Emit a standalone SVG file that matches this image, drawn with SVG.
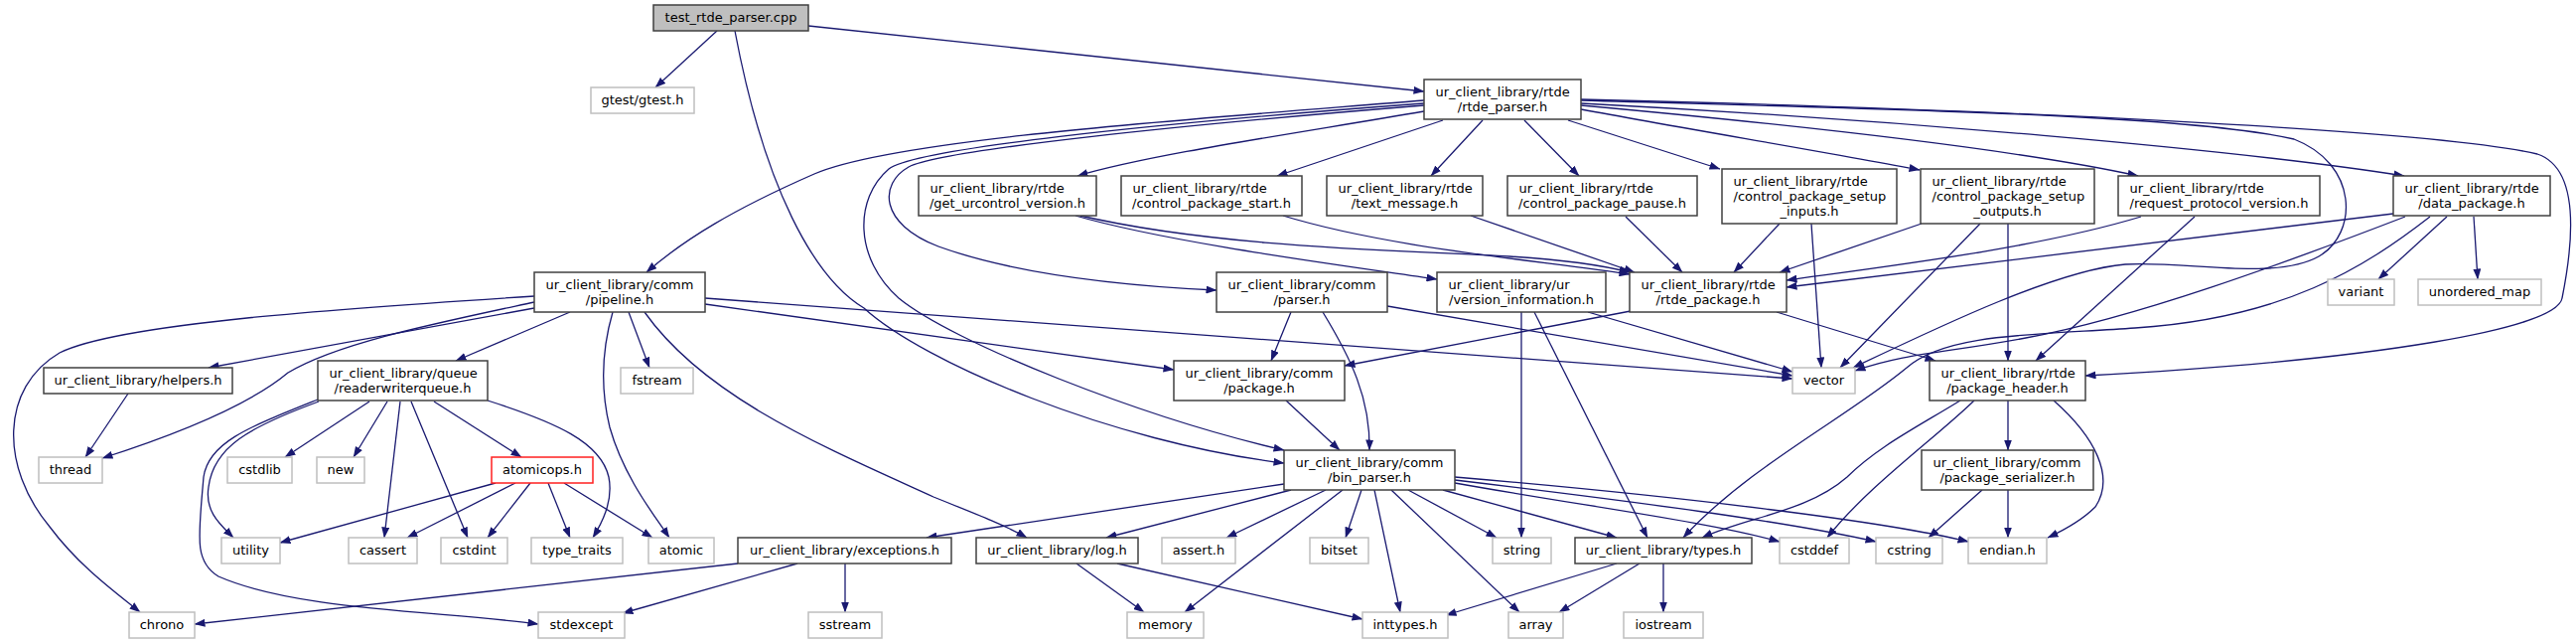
<svg xmlns="http://www.w3.org/2000/svg" width="2594" height="648" viewBox="0 0 2594 648">
<defs>
<marker id="ah" viewBox="0 0 11 8" refX="10.5" refY="4" markerWidth="11" markerHeight="8" markerUnits="userSpaceOnUse" orient="auto">
<path d="M0,0 L11,4 L0,8 z" fill="#191970"/>
</marker>
<style>
.e path{fill:none;stroke:#191970;stroke-width:1.3;marker-end:url(#ah)}
.n rect{fill:#ffffff;stroke:#404040;stroke-width:1.5}
.g rect{fill:#ffffff;stroke:#bfbfbf;stroke-width:1.5}
.r rect{fill:#ffffff;stroke:#ff2020;stroke-width:1.5}
.root rect{fill:#bfbfbf;stroke:#404040;stroke-width:1.5}
text{font-family:"DejaVu Sans","Liberation Sans",sans-serif;font-size:13px;fill:#000}
.c{text-anchor:middle}
</style>
</defs>
<rect width="2594" height="648" fill="#ffffff"/>
<g class="e" id="connectors">
<path d="M722,31 L660,88"/>
<path d="M814,26 L1434,92"/>
<path d="M740,31 C770,190 820,280 870,310 C930,365 1120,445 1293,466"/>
<path d="M1434,101 C1200,120 900,140 820,175 C740,210 690,240 651,274"/>
<path d="M1434,104 C1150,125 920,150 895,170 C860,200 860,260 905,300 C960,345 1150,420 1293,453"/>
<path d="M1434,106 C1200,125 950,150 915,168 C885,185 885,225 945,248 C1020,275 1120,287 1225,292"/>
<path d="M1434,112 C1300,135 1160,155 1085,177"/>
<path d="M1453,121 L1286,177"/>
<path d="M1493,121 L1441,177"/>
<path d="M1535,121 L1590,177"/>
<path d="M1579,121 L1732,170"/>
<path d="M1592,110 C1700,130 1850,155 1933,171"/>
<path d="M1592,106 C1800,125 2030,150 2153,177"/>
<path d="M1592,104 C1900,120 2250,150 2421,177"/>
<path d="M1592,101 C1900,110 2200,115 2310,140 C2375,165 2375,235 2335,258 C2290,283 2200,262 2140,266 C2070,272 1950,330 1866,370"/>
<path d="M1592,100 C2000,110 2450,130 2555,155 C2600,170 2590,250 2580,300 C2575,330 2400,362 2100,378"/>
<path d="M1083,217 C1180,245 1360,268 1447,281"/>
<path d="M1088,217 C1230,250 1420,252 1520,258 C1570,261 1610,266 1641,274"/>
<path d="M1292,217 C1400,250 1550,262 1641,276"/>
<path d="M1481,217 L1646,274"/>
<path d="M1637,218 L1694,274"/>
<path d="M1792,225 L1746,274"/>
<path d="M1824,225 L1834,370"/>
<path d="M1935,225 L1792,274"/>
<path d="M1994,225 L1853,370"/>
<path d="M2022,225 L2022,363"/>
<path d="M2156,218 C2050,250 1900,268 1799,282"/>
<path d="M2210,218 L2050,363"/>
<path d="M2410,215 L1799,289"/>
<path d="M2422,218 C2300,265 2150,320 2040,340 C1960,355 1920,355 1868,373"/>
<path d="M2447,218 C2380,270 2300,320 2150,330 C2050,337 1960,335 1920,370 C1860,420 1760,470 1695,541"/>
<path d="M2464,218 L2395,281"/>
<path d="M2491,218 L2495,281"/>
<path d="M538,298 C350,310 120,325 60,355 C0,390 0,470 50,530 C80,570 115,595 141,616"/>
<path d="M538,304 C440,325 340,345 290,375 C260,400 200,430 103,461"/>
<path d="M538,310 L210,370"/>
<path d="M574,314 L459,363"/>
<path d="M617,314 C608,345 603,385 614,430 C628,480 660,520 674,541"/>
<path d="M633,314 L654,370"/>
<path d="M649,314 C710,400 830,450 940,500 C990,520 1015,530 1034,541"/>
<path d="M710,306 L1182,372"/>
<path d="M710,300 L1805,381"/>
<path d="M320,402 C250,430 210,445 205,480 C200,540 195,565 220,580 C300,615 450,615 542,628"/>
<path d="M321,404 C250,430 215,450 210,490 C206,515 222,528 235,541"/>
<path d="M372,404 L287,460"/>
<path d="M390,404 L356,460"/>
<path d="M403,404 L387,541"/>
<path d="M414,404 L471,541"/>
<path d="M437,404 L525,460"/>
<path d="M491,403 C560,425 605,445 613,480 C618,505 605,528 597,541"/>
<path d="M499,486 L282,546"/>
<path d="M519,486 L410,541"/>
<path d="M534,486 L491,541"/>
<path d="M552,486 L574,541"/>
<path d="M568,486 L657,541"/>
<path d="M129,396 L86,460"/>
<path d="M743,567 L196,628"/>
<path d="M803,567 L627,617"/>
<path d="M851,567 L851,616"/>
<path d="M1293,487 L933,541"/>
<path d="M1300,493 L1114,541"/>
<path d="M1335,493 L1235,541"/>
<path d="M1352,493 L1193,616"/>
<path d="M1371,493 L1355,541"/>
<path d="M1384,493 L1410,616"/>
<path d="M1401,493 L1530,616"/>
<path d="M1418,493 L1507,541"/>
<path d="M1453,493 L1628,541"/>
<path d="M1465,486 C1600,510 1720,525 1792,545"/>
<path d="M1465,483 C1650,505 1800,525 1889,545"/>
<path d="M1465,480 C1700,500 1900,525 1982,545"/>
<path d="M1300,314 L1280,363"/>
<path d="M1332,314 C1360,360 1380,400 1379,453"/>
<path d="M1397,308 L1805,378"/>
<path d="M1532,314 L1532,541"/>
<path d="M1545,314 L1659,541"/>
<path d="M1599,314 L1805,374"/>
<path d="M1642,313 L1354,368"/>
<path d="M1789,314 L1949,363"/>
<path d="M1295,403 L1349,453"/>
<path d="M1628,567 L1456,619"/>
<path d="M1651,567 L1570,616"/>
<path d="M1675,567 L1675,616"/>
<path d="M1084,567 L1152,616"/>
<path d="M1125,567 L1372,623"/>
<path d="M1974,403 C1930,430 1890,450 1860,480 C1820,515 1760,520 1714,541"/>
<path d="M1988,403 C1950,440 1880,490 1840,541"/>
<path d="M2022,403 L2022,453"/>
<path d="M2068,403 C2110,440 2130,480 2110,510 C2095,525 2075,535 2062,541"/>
<path d="M1996,493 L1942,541"/>
<path d="M2022,493 L2022,541"/>
</g>
<g id="n_test" class="root"><rect x="658" y="5" width="156" height="26"/><text class="c" x="736" y="22">test_rtde_parser.cpp</text></g>
<g id="n_gtest" class="g"><rect x="595" y="88" width="104" height="26"/><text class="c" x="647" y="105">gtest/gtest.h</text></g>
<g id="n_rtde_parser" class="n"><rect x="1434" y="80" width="158" height="40"/><text x="1445.5" y="96.5">ur_client_library/rtde</text><text class="c" x="1513" y="111.5">/rtde_parser.h</text></g>
<g id="n_get_urcontrol" class="n"><rect x="925" y="177" width="179" height="40"/><text x="936.5" y="193.5">ur_client_library/rtde</text><text class="c" x="1014.5" y="208.5">/get_urcontrol_version.h</text></g>
<g id="n_start" class="n"><rect x="1129" y="177" width="182" height="40"/><text x="1140.5" y="193.5">ur_client_library/rtde</text><text class="c" x="1220" y="208.5">/control_package_start.h</text></g>
<g id="n_text_message" class="n"><rect x="1336" y="177" width="157" height="40"/><text x="1347.5" y="193.5">ur_client_library/rtde</text><text class="c" x="1414.5" y="208.5">/text_message.h</text></g>
<g id="n_pause" class="n"><rect x="1518" y="177" width="191" height="40"/><text x="1529.5" y="193.5">ur_client_library/rtde</text><text class="c" x="1613.5" y="208.5">/control_package_pause.h</text></g>
<g id="n_inputs" class="n"><rect x="1734" y="170" width="176" height="55"/><text x="1745.5" y="186.5">ur_client_library/rtde</text><text x="1745.5" y="201.5">/control_package_setup</text><text class="c" x="1822" y="216.5">_inputs.h</text></g>
<g id="n_outputs" class="n"><rect x="1934" y="170" width="175" height="55"/><text x="1945.5" y="186.5">ur_client_library/rtde</text><text x="1945.5" y="201.5">/control_package_setup</text><text class="c" x="2021.5" y="216.5">_outputs.h</text></g>
<g id="n_request" class="n"><rect x="2133" y="177" width="203" height="40"/><text x="2144.5" y="193.5">ur_client_library/rtde</text><text class="c" x="2234.5" y="208.5">/request_protocol_version.h</text></g>
<g id="n_data_package" class="n"><rect x="2410" y="177" width="158" height="40"/><text x="2421.5" y="193.5">ur_client_library/rtde</text><text class="c" x="2489" y="208.5">/data_package.h</text></g>
<g id="n_pipeline" class="n"><rect x="538" y="274" width="172" height="40"/><text x="549.5" y="290.5">ur_client_library/comm</text><text class="c" x="624" y="305.5">/pipeline.h</text></g>
<g id="n_parser" class="n"><rect x="1225" y="274" width="172" height="40"/><text x="1236.5" y="290.5">ur_client_library/comm</text><text class="c" x="1311" y="305.5">/parser.h</text></g>
<g id="n_version" class="n"><rect x="1447" y="274" width="170" height="40"/><text x="1458.5" y="290.5">ur_client_library/ur</text><text class="c" x="1532" y="305.5">/version_information.h</text></g>
<g id="n_rtde_package" class="n"><rect x="1641" y="274" width="158" height="40"/><text x="1652.5" y="290.5">ur_client_library/rtde</text><text class="c" x="1720" y="305.5">/rtde_package.h</text></g>
<g id="n_variant" class="g"><rect x="2344" y="281" width="67" height="26"/><text class="c" x="2377.5" y="298">variant</text></g>
<g id="n_unordered_map" class="g"><rect x="2435" y="281" width="124" height="26"/><text class="c" x="2497" y="298">unordered_map</text></g>
<g id="n_helpers" class="n"><rect x="44" y="370" width="190" height="26"/><text class="c" x="139" y="387">ur_client_library/helpers.h</text></g>
<g id="n_rwq" class="n"><rect x="320" y="363" width="171" height="40"/><text x="331.5" y="379.5">ur_client_library/queue</text><text class="c" x="405.5" y="394.5">/readerwriterqueue.h</text></g>
<g id="n_fstream" class="g"><rect x="625" y="370" width="73" height="26"/><text class="c" x="661.5" y="387">fstream</text></g>
<g id="n_package" class="n"><rect x="1182" y="363" width="172" height="40"/><text x="1193.5" y="379.5">ur_client_library/comm</text><text class="c" x="1268" y="394.5">/package.h</text></g>
<g id="n_vector" class="g"><rect x="1805" y="370" width="63" height="26"/><text class="c" x="1836.5" y="387">vector</text></g>
<g id="n_package_header" class="n"><rect x="1943" y="363" width="157" height="40"/><text x="1954.5" y="379.5">ur_client_library/rtde</text><text class="c" x="2021.5" y="394.5">/package_header.h</text></g>
<g id="n_thread" class="g"><rect x="39" y="460" width="64" height="26"/><text class="c" x="71" y="477">thread</text></g>
<g id="n_cstdlib" class="g"><rect x="229" y="460" width="65" height="26"/><text class="c" x="261.5" y="477">cstdlib</text></g>
<g id="n_new" class="g"><rect x="319" y="460" width="48" height="26"/><text class="c" x="343" y="477">new</text></g>
<g id="n_atomicops" class="r"><rect x="495" y="460" width="102" height="26"/><text class="c" x="546" y="477">atomicops.h</text></g>
<g id="n_bin_parser" class="n"><rect x="1293" y="453" width="172" height="40"/><text x="1304.5" y="469.5">ur_client_library/comm</text><text class="c" x="1379" y="484.5">/bin_parser.h</text></g>
<g id="n_package_serializer" class="n"><rect x="1935" y="453" width="173" height="40"/><text x="1946.5" y="469.5">ur_client_library/comm</text><text class="c" x="2021.5" y="484.5">/package_serializer.h</text></g>
<g id="n_utility" class="g"><rect x="223" y="541" width="59" height="26"/><text class="c" x="252.5" y="558">utility</text></g>
<g id="n_cassert" class="g"><rect x="351" y="541" width="69" height="26"/><text class="c" x="385.5" y="558">cassert</text></g>
<g id="n_cstdint" class="g"><rect x="444" y="541" width="67" height="26"/><text class="c" x="477.5" y="558">cstdint</text></g>
<g id="n_type_traits" class="g"><rect x="535" y="541" width="92" height="26"/><text class="c" x="581" y="558">type_traits</text></g>
<g id="n_atomic" class="g"><rect x="653" y="541" width="66" height="26"/><text class="c" x="686" y="558">atomic</text></g>
<g id="n_exceptions" class="n"><rect x="743" y="541" width="215" height="26"/><text class="c" x="850.5" y="558">ur_client_library/exceptions.h</text></g>
<g id="n_log" class="n"><rect x="983" y="541" width="163" height="26"/><text class="c" x="1064.5" y="558">ur_client_library/log.h</text></g>
<g id="n_assert" class="g"><rect x="1170" y="541" width="74" height="26"/><text class="c" x="1207" y="558">assert.h</text></g>
<g id="n_bitset" class="g"><rect x="1319" y="541" width="59" height="26"/><text class="c" x="1348.5" y="558">bitset</text></g>
<g id="n_string" class="g"><rect x="1503" y="541" width="59" height="26"/><text class="c" x="1532.5" y="558">string</text></g>
<g id="n_types" class="n"><rect x="1586" y="541" width="178" height="26"/><text class="c" x="1675" y="558">ur_client_library/types.h</text></g>
<g id="n_cstddef" class="g"><rect x="1792" y="541" width="70" height="26"/><text class="c" x="1827" y="558">cstddef</text></g>
<g id="n_cstring" class="g"><rect x="1889" y="541" width="67" height="26"/><text class="c" x="1922.5" y="558">cstring</text></g>
<g id="n_endian" class="g"><rect x="1982" y="541" width="79" height="26"/><text class="c" x="2021.5" y="558">endian.h</text></g>
<g id="n_chrono" class="g"><rect x="130" y="616" width="66" height="26"/><text class="c" x="163" y="633">chrono</text></g>
<g id="n_stdexcept" class="g"><rect x="542" y="616" width="87" height="26"/><text class="c" x="585.5" y="633">stdexcept</text></g>
<g id="n_sstream" class="g"><rect x="814" y="616" width="74" height="26"/><text class="c" x="851" y="633">sstream</text></g>
<g id="n_memory" class="g"><rect x="1135" y="616" width="77" height="26"/><text class="c" x="1173.5" y="633">memory</text></g>
<g id="n_inttypes" class="g"><rect x="1372" y="616" width="86" height="26"/><text class="c" x="1415" y="633">inttypes.h</text></g>
<g id="n_array" class="g"><rect x="1519" y="616" width="55" height="26"/><text class="c" x="1546.5" y="633">array</text></g>
<g id="n_iostream" class="g"><rect x="1635" y="616" width="80" height="26"/><text class="c" x="1675" y="633">iostream</text></g>
</svg>
